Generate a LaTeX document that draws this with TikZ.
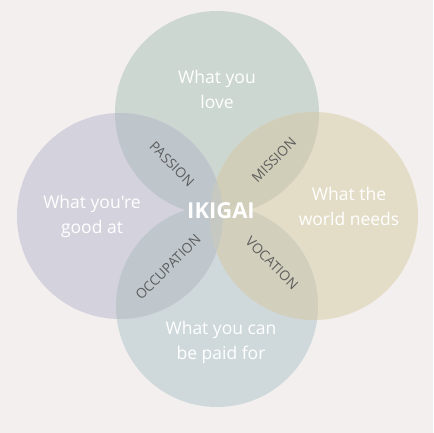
\documentclass[tikz,border=0pt]{standalone}
\usepackage{fontspec}
\setmainfont{Open Sans}[Ligatures=TeXOff]
\definecolor{bg}{HTML}{F3EFEE}
\definecolor{cLove}{HTML}{CCD7D1}
\definecolor{cGood}{HTML}{D4D2DC}
\definecolor{cWorld}{HTML}{E3DCC6}
\definecolor{cPaid}{HTML}{CFD9DB}
\definecolor{cPassion}{HTML}{BEC5CB}
\definecolor{cMission}{HTML}{D0CEB8}
\definecolor{cOccup}{HTML}{BFC7CD}
\definecolor{cVocation}{HTML}{D2CFBD}
\definecolor{cMid}{HTML}{C6C8C2}
\definecolor{lbl}{HTML}{5E5E5E}
\begin{document}
\begin{tikzpicture}[x=1pt,y=-1pt,
  big/.style={text=white,font=\fontsize{17.5}{25}\selectfont,align=center},
  small/.style={text=lbl,font=\fontsize{13.7}{15}\selectfont},
  ring/.style={circle,inner sep=0pt,minimum size=#1}]
\fill[bg] (0,0) rectangle (433,433);
\useasboundingbox (0,0) rectangle (433,433);
% circles
\node[ring=204pt,fill=cLove] (love) at (217,113) {};
\node[ring=206pt,fill=cGood] (good) at (120,216) {};
\node[ring=208pt,fill=cWorld] (world) at (314,216) {};
\node[ring=202pt,fill=cPaid] (paid) at (217,306) {};
% overlaps
\begin{scope}
  \clip (217,113) circle[radius=102pt];
  \fill[cPassion] (120,216) circle[radius=103pt];
  \fill[cMission] (314,216) circle[radius=104pt];
\end{scope}
\begin{scope}
  \clip (217,306) circle[radius=101pt];
  \fill[cOccup] (120,216) circle[radius=103pt];
  \fill[cVocation] (314,216) circle[radius=104pt];
\end{scope}
\begin{scope}
  \clip (120,216) circle[radius=103pt];
  \fill[cMid] (314,216) circle[radius=104pt];
\end{scope}
% texts
\node[big] (tLove) at (217,89) {What you\\love};
\node[big] (tGood) at (92,216) {What you're\\good at};
\node[big] (tWorld) at (349,206) {What the\\world needs};
\node[big] (tPaid) at (221,342) {What you can\\be paid for};
\node[text=white,font=\fontsize{22}{26}\selectfont\bfseries] (ikigai) at (221,211) {IKIGAI};
\node[small,rotate=-45] (passion) at (172,164) {PASSION};
\node[small,rotate=45] (mission) at (274,160) {MISSION};
\node[small,rotate=45] (occup) at (168,267) {OCCUPATION};
\node[small,rotate=-45] (vocation) at (272,263) {VOCATION};
\end{tikzpicture}
\end{document}
